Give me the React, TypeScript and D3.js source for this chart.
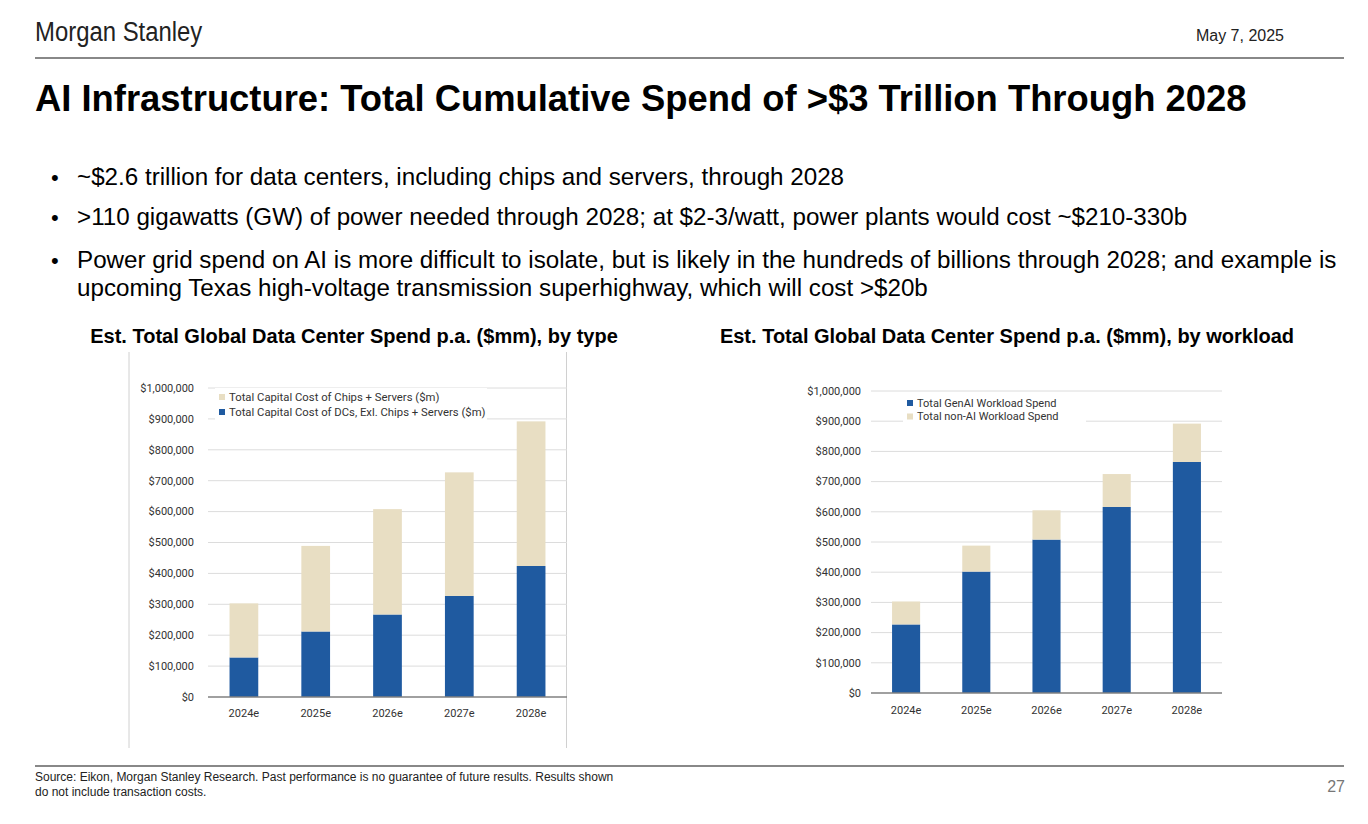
import React from "react";
import * as d3 from "d3";

const years = ["2024e", "2025e", "2026e", "2027e", "2028e"];

// Left chart: by type ($mm)
const dcExChips = [128000, 212000, 267000, 327000, 424000];
const chipsServers = [175000, 277000, 341000, 400000, 468000];

// Right chart: by workload ($mm)
const genAI = [227000, 402000, 508000, 616000, 765000];
const nonAI = [76000, 86000, 97000, 109000, 127000];

const yTicks = [0, 100000, 200000, 300000, 400000, 500000, 600000, 700000, 800000, 900000, 1000000];

const bullets = [
  ["~$2.6 trillion for data centers, including chips and servers, through 2028"],
  [">110 gigawatts (GW) of power needed through 2028; at $2-3/watt, power plants would cost ~$210-330b"],
  [
    "Power grid spend on AI is more difficult to isolate, but is likely in the hundreds of billions through 2028; and example is",
    "upcoming Texas high-voltage transmission superhighway, which will cost >$20b",
  ],
];

const BLUE = "#1f5aa0";
const BEIGE = "#e8dec3";
const fmt = (v: number) => "$" + d3.format(",")(v);

type Series = { name: string; values: number[]; color: string };

function StackedChart(props: {
  x0: number; x1: number; yBottom: number; yTop: number;
  labelX: number; xLabelY: number;
  bottom: Series; top: Series;
  legend: Series[]; legendX: number; legendY: number; legendRow: number; legendMaskW: number; legendFont: number;
}) {
  const { x0, x1, yBottom, yTop, bottom, top } = props;
  const x = d3.scaleBand<string>().domain(years).range([x0, x1]).paddingInner(0.6).paddingOuter(0.3);
  const y = d3.scaleLinear().domain([0, 1000000]).range([yBottom, yTop]);
  const font = "Roboto, 'Liberation Sans', sans-serif";
  return (
    <g>
      {yTicks.map((t) => (
        <g key={t}>
          {t > 0 && <line x1={x0} x2={x1} y1={y(t)} y2={y(t)} stroke="#dcdcdc" strokeWidth={1} />}
          <text x={props.labelX} y={y(t)} dy="0.35em" textAnchor="end" fontSize={11} fontFamily={font} fill="#333">
            {fmt(t)}
          </text>
        </g>
      ))}
      <rect x={props.legendX - 4} y={props.legendY - 9} width={props.legendMaskW} height={props.legendRow * 2 + 5} fill="#fff" />
      {years.map((yr, i) => {
        const b = bottom.values[i];
        const tp = top.values[i];
        return (
          <g key={yr}>
            <rect x={x(yr)} y={y(b)} width={x.bandwidth()} height={y(0) - y(b)} fill={bottom.color} />
            <rect x={x(yr)} y={y(b + tp)} width={x.bandwidth()} height={y(b) - y(b + tp)} fill={top.color} />
            <text x={(x(yr) as number) + x.bandwidth() / 2} y={props.xLabelY} dy="0.35em" textAnchor="middle"
              fontSize={11} fontFamily={font} fill="#333">
              {yr}
            </text>
          </g>
        );
      })}
      <line x1={x0} x2={x1} y1={y(0)} y2={y(0)} stroke="#808080" strokeWidth={1.5} />
      {props.legend.map((s, i) => (
        <g key={s.name}>
          <rect x={props.legendX} y={props.legendY + i * props.legendRow - 3} width={6} height={6} fill={s.color} />
          <text x={props.legendX + 10} y={props.legendY + i * props.legendRow} dy="0.35em" fontSize={props.legendFont} fontFamily={font} fill="#333">
            {s.name}
          </text>
        </g>
      ))}
    </g>
  );
}

export default function App() {
  const sans = "'Liberation Sans', Arial, Helvetica, sans-serif";
  const leftBottom: Series = { name: "Total Capital Cost of DCs, Exl. Chips + Servers ($m)", values: dcExChips, color: BLUE };
  const leftTop: Series = { name: "Total Capital Cost of Chips + Servers ($m)", values: chipsServers, color: BEIGE };
  const rightBottom: Series = { name: "Total GenAI Workload Spend", values: genAI, color: BLUE };
  const rightTop: Series = { name: "Total non-AI Workload Spend", values: nonAI, color: BEIGE };
  const bulletY = [185, 225, 268];
  return (
    <svg width={1368} height={824} style={{ position: "absolute", left: 0, top: 0, background: "#fff" }}>
      <rect width={1368} height={824} fill="#fff" />
      <text x={35} y={41} fontSize={27} fontFamily={sans} fill="#222" transform="translate(4.03,0) scale(0.885,1)">Morgan Stanley</text>
      <text x={1284} y={41} fontSize={16} fontFamily={sans} fill="#222" textAnchor="end">May 7, 2025</text>
      <line x1={35} x2={1344} y1={58} y2={58} stroke="#888" strokeWidth={2} />
      <text x={35} y={111} fontSize={36.4} fontWeight="bold" fontFamily={sans} fill="#000">
        AI Infrastructure: Total Cumulative Spend of &gt;$3 Trillion Through 2028
      </text>
      {bullets.map((lines, i) => (
        <g key={i}>
          <text x={51} y={bulletY[i]} fontSize={22} fontFamily={sans} fill="#000">•</text>
          {lines.map((l, j) => (
            <text key={j} x={77} y={bulletY[i] + j * 28} fontSize={24.2} fontFamily={sans} fill="#000">{l}</text>
          ))}
        </g>
      ))}
      <text x={354} y={343} fontSize={20} fontWeight="bold" fontFamily={sans} textAnchor="middle" fill="#000">
        Est. Total Global Data Center Spend p.a. ($mm), by type
      </text>
      <text x={1007} y={343} fontSize={20} fontWeight="bold" fontFamily={sans} textAnchor="middle" fill="#000">
        Est. Total Global Data Center Spend p.a. ($mm), by workload
      </text>
      <line x1={129} x2={129} y1={352} y2={748} stroke="#d0d0d0" strokeWidth={1} />
      <line x1={566.5} x2={566.5} y1={352} y2={748} stroke="#d0d0d0" strokeWidth={1} />
      <StackedChart x0={208} x1={567} yBottom={697} yTop={388} labelX={194} xLabelY={713}
        bottom={leftBottom} top={leftTop} legend={[leftTop, leftBottom]}
        legendX={219} legendY={397} legendRow={15} legendMaskW={272} legendFont={11.3} />
      <StackedChart x0={871} x1={1222} yBottom={693} yTop={391} labelX={861} xLabelY={710}
        bottom={rightBottom} top={rightTop} legend={[rightBottom, rightTop]}
        legendX={907} legendY={403} legendRow={13.5} legendMaskW={183} legendFont={11} />
      <line x1={35} x2={1344} y1={766} y2={766} stroke="#888" strokeWidth={2} />
      <text x={35} y={781} fontSize={12} fontFamily={sans} fill="#222">
        Source: Eikon, Morgan Stanley Research. Past performance is no guarantee of future results. Results shown
      </text>
      <text x={35} y={796} fontSize={12} fontFamily={sans} fill="#222">do not include transaction costs.</text>
      <text x={1345} y={792} fontSize={16} fontFamily={sans} fill="#777" textAnchor="end">27</text>
    </svg>
  );
}
